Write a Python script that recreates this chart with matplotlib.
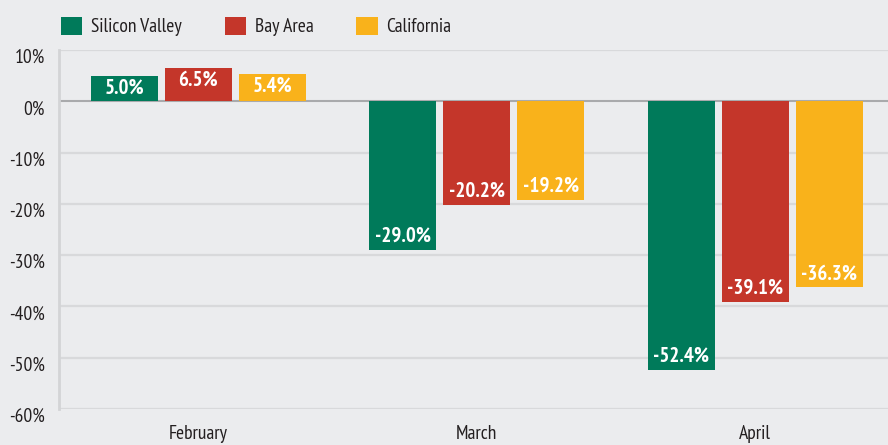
import numpy as np
import matplotlib.pyplot as plt
import matplotlib.transforms as mtransforms

# DATA

months = ["February", "March", "April"]

regions = ["Silicon Valley", "Bay Area", "California"]

silicon_valley = [5.0, -29.0, -52.4]
bay_area = [6.5, -20.2, -39.1]
california = [5.4, -19.2, -36.3]

y_ticks = [10, 0, -10, -20, -30, -40, -50, -60]

colors = ["#007a5a", "#c4362a", "#f9b21b"]


def main():

    plt.rcParams["font.family"] = ["PT Sans Narrow", "DejaVu Sans"]

    bg = "#ebecee"

    fig = plt.figure(figsize=(8.88, 4.45), dpi=100, facecolor=bg)

    ax = fig.add_axes([59 / 888, 1 - 409 / 445, 1 - 59 / 888, (409 - 50) / 445])

    ax.set_facecolor(bg)

    x = np.arange(len(months))

    width = 0.24
    step = 0.266

    series = [silicon_valley, bay_area, california]

    # GRID

    for t in y_ticks:

        if t == 0:
            continue

        ax.axhline(t, color="#d8d9db", linewidth=1.6, zorder=0)

    # BARS

    for i, values in enumerate(series):

        bars = ax.bar(
            x + (i - 1) * step,
            values,
            width,
            color=colors[i],
            label=regions[i],
            zorder=2
        )

        for rect, v in zip(bars, values):

            cx = rect.get_x() + rect.get_width() / 2

            if v >= 0:
                ax.annotate(
                    f"{v:.1f}%",
                    (cx, v),
                    xytext=(0, -2),
                    textcoords="offset points",
                    ha="center",
                    va="top",
                    color="white",
                    fontsize=15,
                    fontweight="bold",
                    zorder=3
                )
            else:
                ax.annotate(
                    f"{v:.1f}%",
                    (cx, v),
                    xytext=(0, 3),
                    textcoords="offset points",
                    ha="center",
                    va="bottom",
                    color="white",
                    fontsize=15,
                    fontweight="bold",
                    zorder=3
                )

    # ZERO LINE

    ax.axhline(0, color="#a9aaac", linewidth=1.5, zorder=1)

    ax.set_xlim(-0.5, 2.477)
    ax.set_ylim(-60, 10)

    ax.set_yticks(y_ticks)
    ax.set_yticklabels([f"{t}%" for t in y_ticks])

    ax.set_xticks(x)
    ax.set_xticklabels(months)

    ax.tick_params(axis="both", length=0, labelsize=14, colors="#231f20")
    ax.tick_params(axis="y", pad=10)
    ax.tick_params(axis="x", pad=11.5)

    offset = mtransforms.ScaledTranslation(0, -6 / 100, fig.dpi_scale_trans)

    for lbl in ax.get_yticklabels():
        lbl.set_transform(lbl.get_transform() + offset)

    for side in ["top", "right", "bottom"]:
        ax.spines[side].set_visible(False)

    ax.spines["left"].set_color("#d3d4d6")
    ax.spines["left"].set_linewidth(2)

    # LEGEND

    fig.legend(
        loc="center left",
        bbox_to_anchor=(61 / 888, 1 - 26.5 / 445),
        ncol=3,
        frameon=False,
        fontsize=14,
        borderpad=0,
        borderaxespad=0,
        handlelength=1.1,
        handleheight=1.1,
        handletextpad=0.45,
        columnspacing=2.2,
        labelcolor="#231f20"
    )

    # SAVE IMAGE

    fig.savefig("out.png", dpi=100, facecolor=bg)


if __name__ == "__main__":

    main()
